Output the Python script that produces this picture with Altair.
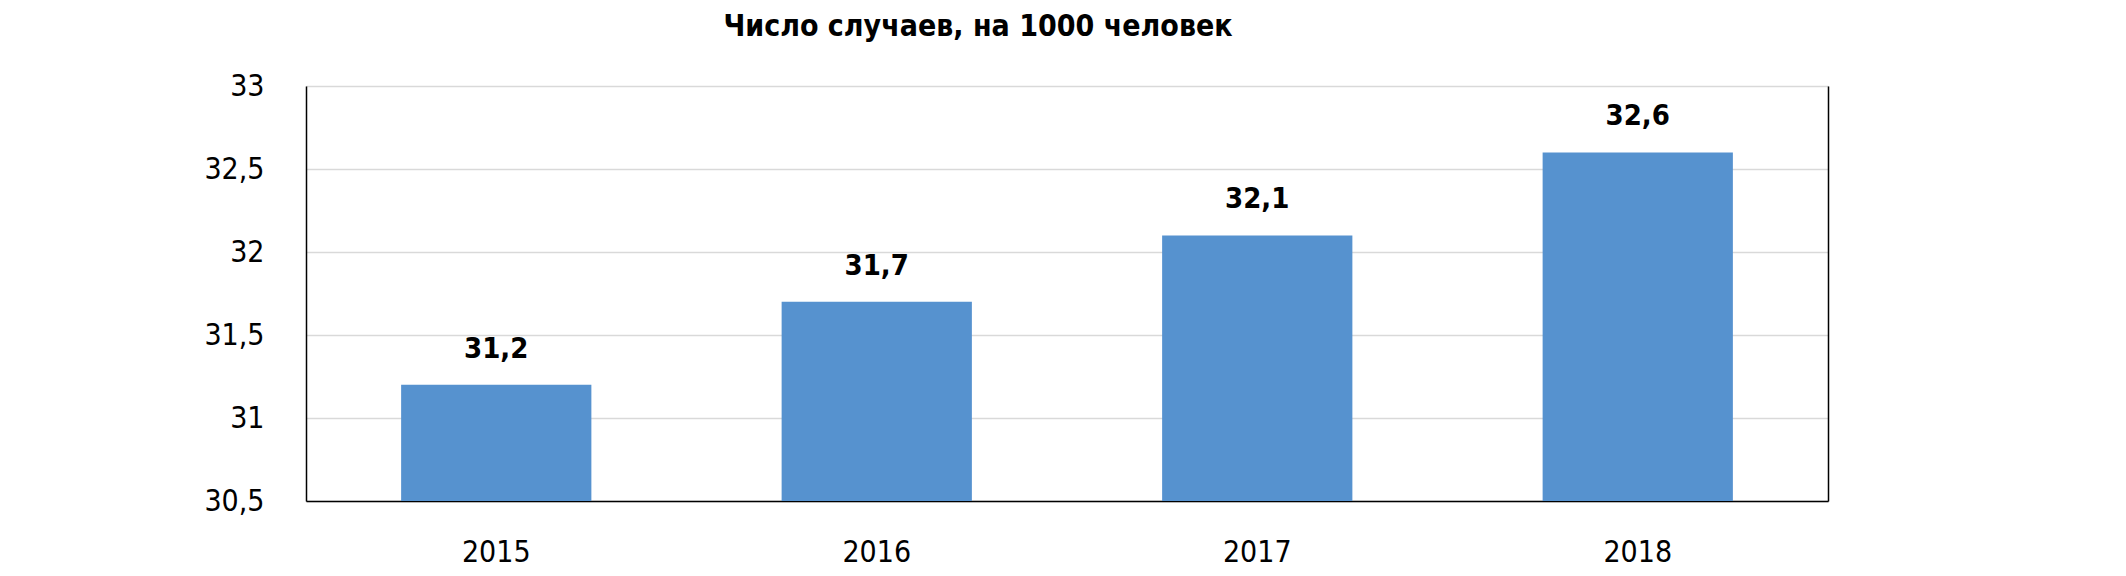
import altair as alt
import pandas as pd

years = ["2015", "2016", "2017", "2018"]
values = [31.2, 31.7, 32.1, 32.6]
y_ticks = [30.5, 31, 31.5, 32, 32.5, 33]
title_text = "Число случаев, на 1000 человек"

df = pd.DataFrame({"year": years, "value": values})

FONT = "Liberation Sans Narrow, DejaVu Sans Condensed, Roboto Condensed, Roboto, sans-serif"
W, H = 1522, 415

base = alt.Chart(df)

x_enc = alt.X("year:N", title=None, sort=years,
              scale=alt.Scale(paddingInner=0.5, paddingOuter=0.25),
              axis=alt.Axis(labelAngle=0, ticks=False, domainColor="black", domainWidth=1.5,
                            labelFontSize=30, labelFont=FONT, labelColor="black",
                            labelBaseline="top", labelPadding=36))

yscale = alt.Scale(domain=[30.5, 33], zero=False, nice=False)

bars = base.mark_bar(color="#5692CF", clip=True).encode(
    x=x_enc,
    y=alt.Y("value:Q", title=None, scale=yscale,
            axis=alt.Axis(values=y_ticks, ticks=False, domainColor="black", domainWidth=1.5,
                          gridColor="#d9d9d9", gridWidth=1.5,
                          labelFontSize=30, labelFont=FONT, labelColor="black",
                          labelPadding=42,
                          labelExpr="replace(format(datum.value, '.1~f'), '.', ',')")),
    y2=alt.datum(30.5),
)

labels = base.transform_calculate(
    lbl="replace(format(datum.value, '.1f'), '.', ',')"
).mark_text(font=FONT, fontSize=29, fontWeight="bold", color="black",
            baseline="alphabetic", dy=-27).encode(
    x=alt.X("year:N", sort=years, title=None),
    y=alt.Y("value:Q", scale=yscale, title=None,
            axis=alt.Axis(orient="right", labels=False, ticks=False, grid=False,
                          domainColor="black", domainWidth=1.5, values=y_ticks)),
    text="lbl:N",
)

chart = alt.layer(bars, labels).resolve_scale(y="independent").properties(
    width=W, height=H,
    autosize=alt.AutoSizeParams(type="none"),
    padding={"left": 298, "top": 78, "right": 290, "bottom": 70},
    title=alt.TitleParams(title_text, font=FONT, fontSize=30, fontWeight="bold",
                          color="black", anchor="middle", dx=-89, offset=29,
                          orient="top", frame="group"),
).configure_view(stroke=None).configure(background="white")

chart.save("out.html", embed_options={"renderer": "svg", "actions": False})
